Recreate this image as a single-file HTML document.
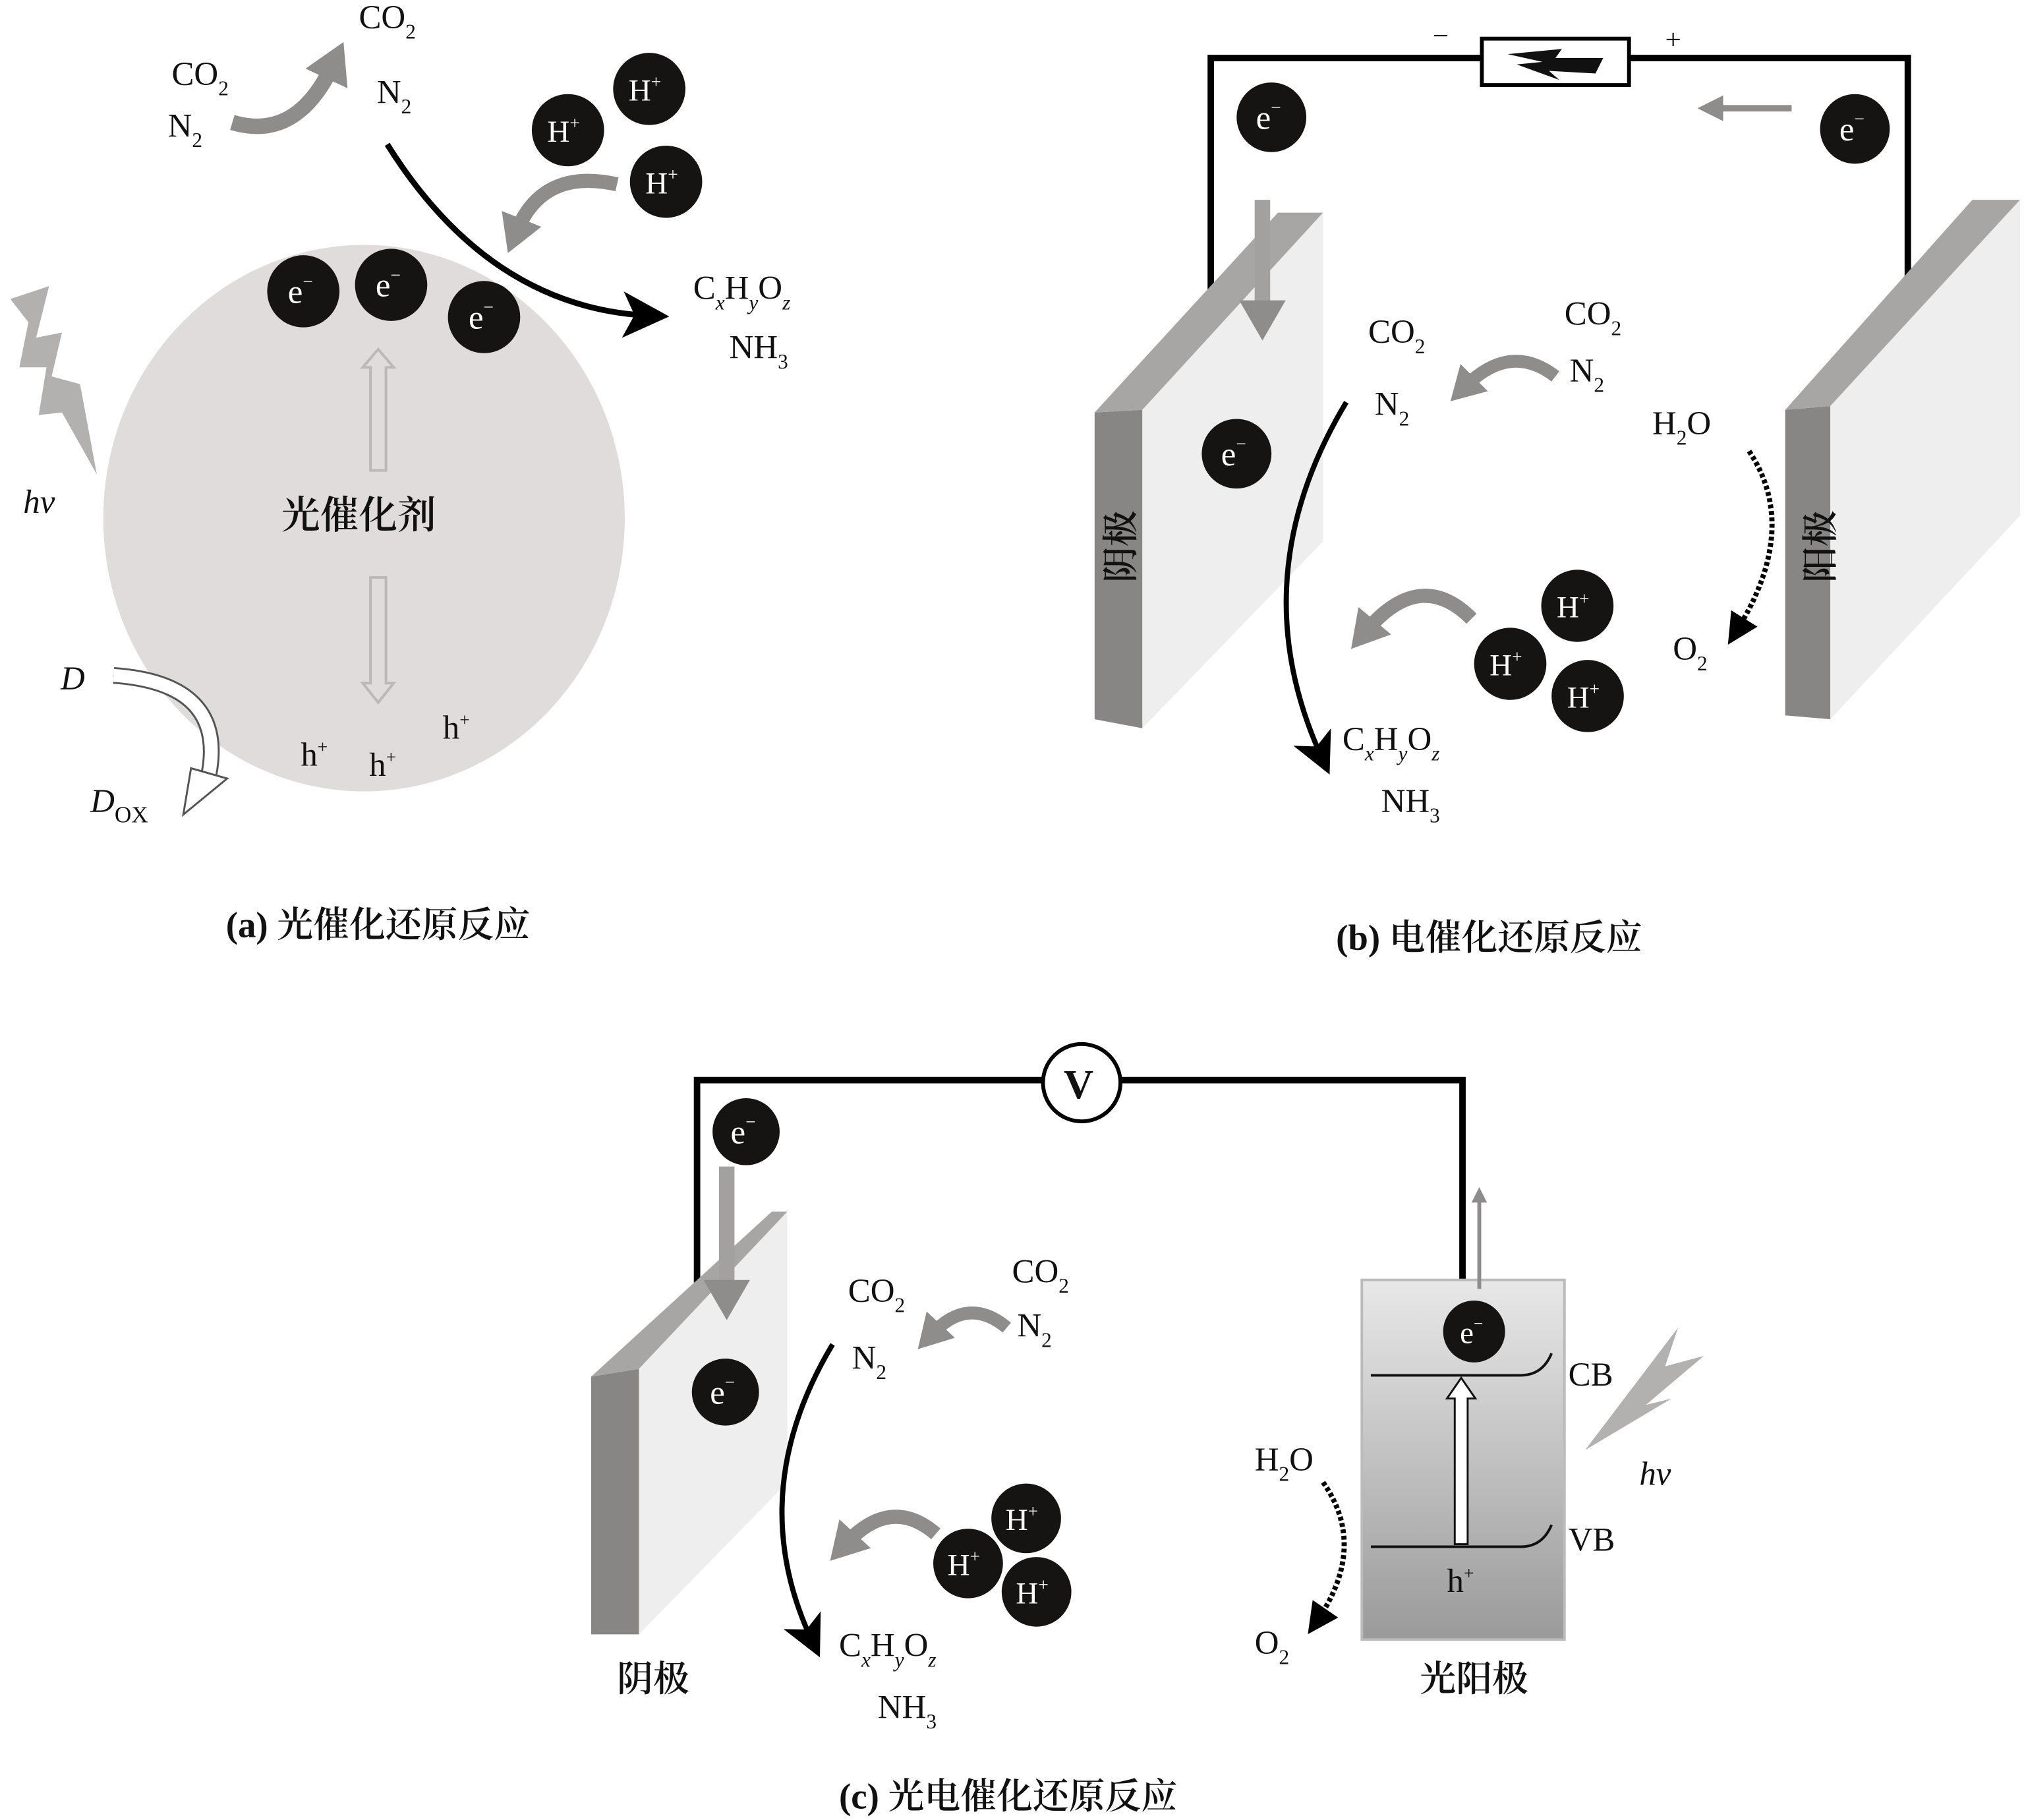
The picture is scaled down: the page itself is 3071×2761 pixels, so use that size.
<!DOCTYPE html>
<html><head><meta charset="utf-8"><style>
html,body{margin:0;padding:0;background:#fff}
svg{display:block}
text{font-family:"Liberation Serif","Noto Serif CJK SC",serif;fill:#111}
.cj{font-family:"Liberation Serif","Noto Serif CJK SC","Noto Sans CJK SC",serif;font-weight:600}
.w{fill:#fff}
</style></head><body>
<svg width="3071" height="2761" viewBox="0 0 1568 1412" preserveAspectRatio="none" xmlns="http://www.w3.org/2000/svg">
<defs>
<marker id="ab" markerWidth="8" markerHeight="8" refX="5" refY="4" orient="auto" markerUnits="strokeWidth"><path d="M0,0 L8,4 L0,8 L2,4z" fill="#000"/></marker>
<marker id="ag" markerWidth="2.6" markerHeight="3" refX="1" refY="1.5" orient="auto" markerUnits="strokeWidth"><path d="M0,0 L2.6,1.5 L0,3z" fill="#8f8c8c"/></marker>
<marker id="ag2" markerWidth="4" markerHeight="4" refX="1" refY="2" orient="auto" markerUnits="strokeWidth"><path d="M0,0 L4,2 L0,4z" fill="#8f8c8c"/></marker>
<marker id="ad" markerWidth="6" markerHeight="6" refX="3" refY="3" orient="auto" markerUnits="strokeWidth"><path d="M0,0 L6,3 L0,6z" fill="#000"/></marker>
<linearGradient id="pa" x1="0" y1="0" x2="0" y2="1"><stop offset="0" stop-color="#e8e8e8"/><stop offset="1" stop-color="#9a9a9a"/></linearGradient>
</defs>

<!-- ===== Panel (a) ===== -->
<ellipse cx="282" cy="402" rx="202" ry="212" fill="#e0dcdc"/>
<path d="M8,232 L38,222 L28,262 L48,258 L40,292 L62,298 L75,368 L48,320 L30,322 L36,285 L15,285 L22,250z" fill="#b3b0b0"/>
<text x="18" y="398" font-size="26" font-style="italic">hv</text>
<path d="M180,95 Q230,110 258,50" fill="none" stroke="#8f8c8c" stroke-width="12" marker-end="url(#ag)"/>
<text x="133" y="66" font-size="26">CO<tspan font-size="16" dy="8">2</tspan></text>
<text x="130" y="106" font-size="26">N<tspan font-size="16" dy="8">2</tspan></text>
<text x="278" y="22" font-size="26">CO<tspan font-size="16" dy="8">2</tspan></text>
<text x="292" y="80" font-size="26">N<tspan font-size="16" dy="8">2</tspan></text>
<path d="M300,112 Q380,240 505,245" fill="none" stroke="#000" stroke-width="4.5" marker-end="url(#ab)"/>
<path d="M478,143 Q420,130 400,180" fill="none" stroke="#8f8c8c" stroke-width="11" marker-end="url(#ag)"/>
<text x="537" y="232" font-size="26">C<tspan font-size="16" dy="8" font-style="italic">x</tspan><tspan dy="-8">H</tspan><tspan font-size="16" dy="8" font-style="italic">y</tspan><tspan dy="-8">O</tspan><tspan font-size="16" dy="8" font-style="italic">z</tspan></text>
<text x="565" y="278" font-size="26">NH<tspan font-size="16" dy="8">3</tspan></text>
<circle cx="235" cy="226" r="28" fill="#161313"/><text x="223" y="235" font-size="26" class="w">e<tspan font-size="14" dy="-12">−</tspan></text>
<circle cx="303" cy="221" r="28" fill="#161313"/><text x="291" y="230" font-size="26" class="w">e<tspan font-size="14" dy="-12">−</tspan></text>
<circle cx="375" cy="246" r="28" fill="#161313"/><text x="363" y="255" font-size="26" class="w">e<tspan font-size="14" dy="-12">−</tspan></text>
<circle cx="503" cy="69" r="28" fill="#161313"/><text x="487" y="78" font-size="24" class="w">H<tspan font-size="14" dy="-10">+</tspan></text>
<circle cx="440" cy="101" r="28" fill="#161313"/><text x="424" y="110" font-size="24" class="w">H<tspan font-size="14" dy="-10">+</tspan></text>
<circle cx="516" cy="141" r="28" fill="#161313"/><text x="500" y="150" font-size="24" class="w">H<tspan font-size="14" dy="-10">+</tspan></text>
<path d="M287,365 L287,285 L281,285 L293,271 L305,285 L299,285 L299,365z" fill="none" stroke="#bcb8b8" stroke-width="2"/>
<path d="M287,448 L299,448 L299,530 L305,530 L293,545 L281,530 L287,530z" fill="none" stroke="#bcb8b8" stroke-width="2"/>
<text x="218" y="410" font-size="30" class="cj">光催化剂</text>
<text x="233" y="594" font-size="26">h<tspan font-size="14" dy="-10">+</tspan></text>
<text x="286" y="602" font-size="26">h<tspan font-size="14" dy="-10">+</tspan></text>
<text x="343" y="573" font-size="26">h<tspan font-size="14" dy="-10">+</tspan></text>
<text x="47" y="535" font-size="26" font-style="italic">D</text>
<text x="70" y="630" font-size="26" font-style="italic">D<tspan font-style="normal" font-size="18" dy="8">OX</tspan></text>
<path d="M88,524 Q175,530 162,600" fill="none" stroke="#555" stroke-width="13"/>
<path d="M88,524 Q175,530 162,600" fill="none" stroke="#fff" stroke-width="10"/>
<polygon points="148,596 176,604 142,632" fill="#fff" stroke="#555" stroke-width="1.5"/>
<text x="175" y="727" font-size="28" class="cj">(a) 光催化还原反应</text>

<!-- ===== Panel (b) ===== -->
<polyline points="938,238 938,45 1148,45" fill="none" stroke="#000" stroke-width="5"/>
<polyline points="1262,45 1478,45 1478,215" fill="none" stroke="#000" stroke-width="5"/>
<rect x="1148" y="30" width="114" height="36" fill="#fff" stroke="#000" stroke-width="3"/>
<path d="M1168,42 L1210,38 L1205,45 L1242,45 L1236,57 L1200,55 L1208,62 L1175,50 L1195,48z" fill="#111"/>
<text x="1110" y="35" font-size="22">−</text>
<text x="1290" y="38" font-size="22">+</text>
<line x1="1388" y1="84" x2="1330" y2="84" stroke="#8f8c8c" stroke-width="5" marker-end="url(#ag2)"/>
<polygon points="848,320 885,318 885,565 848,558" fill="#888585"/>
<polygon points="848,320 990,165 1025,165 885,318" fill="#a8a5a5"/>
<polygon points="885,318 1025,165 1025,420 885,565" fill="#efeeee"/>
<polygon points="1383,318 1418,315 1418,558 1383,555" fill="#888585"/>
<polygon points="1383,318 1528,155 1565,155 1418,315" fill="#a8a5a5"/>
<polygon points="1418,315 1565,155 1565,400 1418,558" fill="#efeeee"/>
<text transform="translate(878,452) rotate(-90)" font-size="28" class="cj">阴极</text>
<text transform="translate(1420,452) rotate(-90)" font-size="28" class="cj">阳极</text>
<line x1="978" y1="155" x2="978" y2="245" stroke="#a3a0a0" stroke-width="12" marker-end="url(#ag)"/>
<circle cx="985" cy="91" r="27" fill="#161313"/><text x="973" y="100" font-size="26" class="w">e<tspan font-size="14" dy="-12">−</tspan></text>
<circle cx="1437" cy="100" r="27" fill="#161313"/><text x="1425" y="109" font-size="26" class="w">e<tspan font-size="14" dy="-12">−</tspan></text>
<circle cx="958" cy="352" r="27" fill="#161313"/><text x="946" y="361" font-size="26" class="w">e<tspan font-size="14" dy="-12">−</tspan></text>
<text x="1060" y="266" font-size="26">CO<tspan font-size="16" dy="8">2</tspan></text>
<text x="1065" y="322" font-size="26">N<tspan font-size="16" dy="8">2</tspan></text>
<text x="1212" y="252" font-size="26">CO<tspan font-size="16" dy="8">2</tspan></text>
<text x="1216" y="296" font-size="26">N<tspan font-size="16" dy="8">2</tspan></text>
<path d="M1205,292 Q1170,265 1135,300" fill="none" stroke="#8f8c8c" stroke-width="10" marker-end="url(#ag)"/>
<path d="M1043,312 Q960,450 1025,590" fill="none" stroke="#000" stroke-width="4" marker-end="url(#ab)"/>
<path d="M1140,480 Q1100,440 1058,490" fill="none" stroke="#8f8c8c" stroke-width="11" marker-end="url(#ag)"/>
<circle cx="1222" cy="470" r="28" fill="#161313"/><text x="1206" y="479" font-size="24" class="w">H<tspan font-size="14" dy="-10">+</tspan></text>
<circle cx="1170" cy="515" r="28" fill="#161313"/><text x="1154" y="524" font-size="24" class="w">H<tspan font-size="14" dy="-10">+</tspan></text>
<circle cx="1230" cy="540" r="28" fill="#161313"/><text x="1214" y="549" font-size="24" class="w">H<tspan font-size="14" dy="-10">+</tspan></text>
<text x="1040" y="582" font-size="26">C<tspan font-size="16" dy="8" font-style="italic">x</tspan><tspan dy="-8">H</tspan><tspan font-size="16" dy="8" font-style="italic">y</tspan><tspan dy="-8">O</tspan><tspan font-size="16" dy="8" font-style="italic">z</tspan></text>
<text x="1070" y="630" font-size="26">NH<tspan font-size="16" dy="8">3</tspan></text>
<text x="1280" y="337" font-size="26">H<tspan font-size="16" dy="8">2</tspan><tspan dy="-8">O</tspan></text>
<path d="M1355,350 Q1395,410 1345,490" fill="none" stroke="#000" stroke-width="4" stroke-dasharray="3,2" marker-end="url(#ad)"/>
<text x="1296" y="512" font-size="26">O<tspan font-size="16" dy="8">2</tspan></text>
<text x="1035" y="737" font-size="28" class="cj">(b) 电催化还原反应</text>

<!-- ===== Panel (c) ===== -->
<polyline points="540,995 540,838 808,838" fill="none" stroke="#000" stroke-width="5"/>
<polyline points="868,838 1133,838 1133,995" fill="none" stroke="#000" stroke-width="5"/>
<circle cx="838" cy="840" r="30" fill="#fff" stroke="#000" stroke-width="3"/>
<text x="824" y="852" font-size="32" font-weight="bold">V</text>
<polygon points="458,1068 495,1062 495,1268 458,1268" fill="#888585"/>
<polygon points="458,1068 598,940 610,940 495,1062" fill="#a8a5a5"/>
<polygon points="495,1062 610,940 610,1150 495,1268" fill="#efeeee"/>
<line x1="563" y1="905" x2="563" y2="1005" stroke="#a3a0a0" stroke-width="12" marker-end="url(#ag)"/>
<circle cx="578" cy="878" r="26" fill="#161313"/><text x="566" y="887" font-size="26" class="w">e<tspan font-size="14" dy="-12">−</tspan></text>
<circle cx="562" cy="1080" r="26" fill="#161313"/><text x="550" y="1089" font-size="26" class="w">e<tspan font-size="14" dy="-12">−</tspan></text>
<text x="478" y="1312" font-size="28" class="cj">阴极</text>
<text x="657" y="1010" font-size="26">CO<tspan font-size="16" dy="8">2</tspan></text>
<text x="660" y="1062" font-size="26">N<tspan font-size="16" dy="8">2</tspan></text>
<text x="784" y="995" font-size="26">CO<tspan font-size="16" dy="8">2</tspan></text>
<text x="788" y="1037" font-size="26">N<tspan font-size="16" dy="8">2</tspan></text>
<path d="M780,1030 Q750,1005 722,1035" fill="none" stroke="#8f8c8c" stroke-width="10" marker-end="url(#ag)"/>
<path d="M645,1043 Q575,1160 630,1275" fill="none" stroke="#000" stroke-width="4" marker-end="url(#ab)"/>
<path d="M725,1190 Q690,1160 655,1198" fill="none" stroke="#8f8c8c" stroke-width="11" marker-end="url(#ag)"/>
<circle cx="795" cy="1178" r="27" fill="#161313"/><text x="779" y="1187" font-size="24" class="w">H<tspan font-size="14" dy="-10">+</tspan></text>
<circle cx="750" cy="1213" r="27" fill="#161313"/><text x="734" y="1222" font-size="24" class="w">H<tspan font-size="14" dy="-10">+</tspan></text>
<circle cx="803" cy="1235" r="27" fill="#161313"/><text x="787" y="1244" font-size="24" class="w">H<tspan font-size="14" dy="-10">+</tspan></text>
<text x="650" y="1285" font-size="26">C<tspan font-size="16" dy="8" font-style="italic">x</tspan><tspan dy="-8">H</tspan><tspan font-size="16" dy="8" font-style="italic">y</tspan><tspan dy="-8">O</tspan><tspan font-size="16" dy="8" font-style="italic">z</tspan></text>
<text x="680" y="1333" font-size="26">NH<tspan font-size="16" dy="8">3</tspan></text>
<rect x="1055" y="993" width="157" height="279" fill="url(#pa)" stroke="#bbb" stroke-width="2"/>
<line x1="1146" y1="1000" x2="1146" y2="930" stroke="#8f8c8c" stroke-width="3" marker-end="url(#ag2)"/>
<circle cx="1142" cy="1033" r="24" fill="#161313"/><text x="1131" y="1042" font-size="24" class="w">e<tspan font-size="13" dy="-11">−</tspan></text>
<path d="M1062,1067 L1178,1067 Q1195,1067 1202,1050" fill="none" stroke="#111" stroke-width="2"/>
<path d="M1062,1200 L1178,1200 Q1195,1200 1202,1183" fill="none" stroke="#111" stroke-width="2"/>
<path d="M1127,1198 L1127,1085 L1121,1085 L1132,1069 L1143,1085 L1137,1085 L1137,1198z" fill="#fff" stroke="#111" stroke-width="1.5"/>
<text x="1121" y="1235" font-size="26">h<tspan font-size="14" dy="-10">+</tspan></text>
<text x="1215" y="1075" font-size="26">CB</text>
<text x="1215" y="1203" font-size="26">VB</text>
<path d="M1228,1125 L1300,1030 L1290,1060 L1320,1052 L1275,1090 L1295,1085z" fill="#b3b0b0"/>
<text x="1270" y="1152" font-size="26" font-style="italic">hv</text>
<text x="972" y="1141" font-size="26">H<tspan font-size="16" dy="8">2</tspan><tspan dy="-8">O</tspan></text>
<path d="M1025,1150 Q1060,1200 1020,1258" fill="none" stroke="#000" stroke-width="4" stroke-dasharray="3,2" marker-end="url(#ad)"/>
<text x="972" y="1283" font-size="26">O<tspan font-size="16" dy="8">2</tspan></text>
<text x="1100" y="1312" font-size="28" class="cj">光阳极</text>
<text x="650" y="1403" font-size="28" class="cj">(c) 光电催化还原反应</text>
</svg>
</body></html>
